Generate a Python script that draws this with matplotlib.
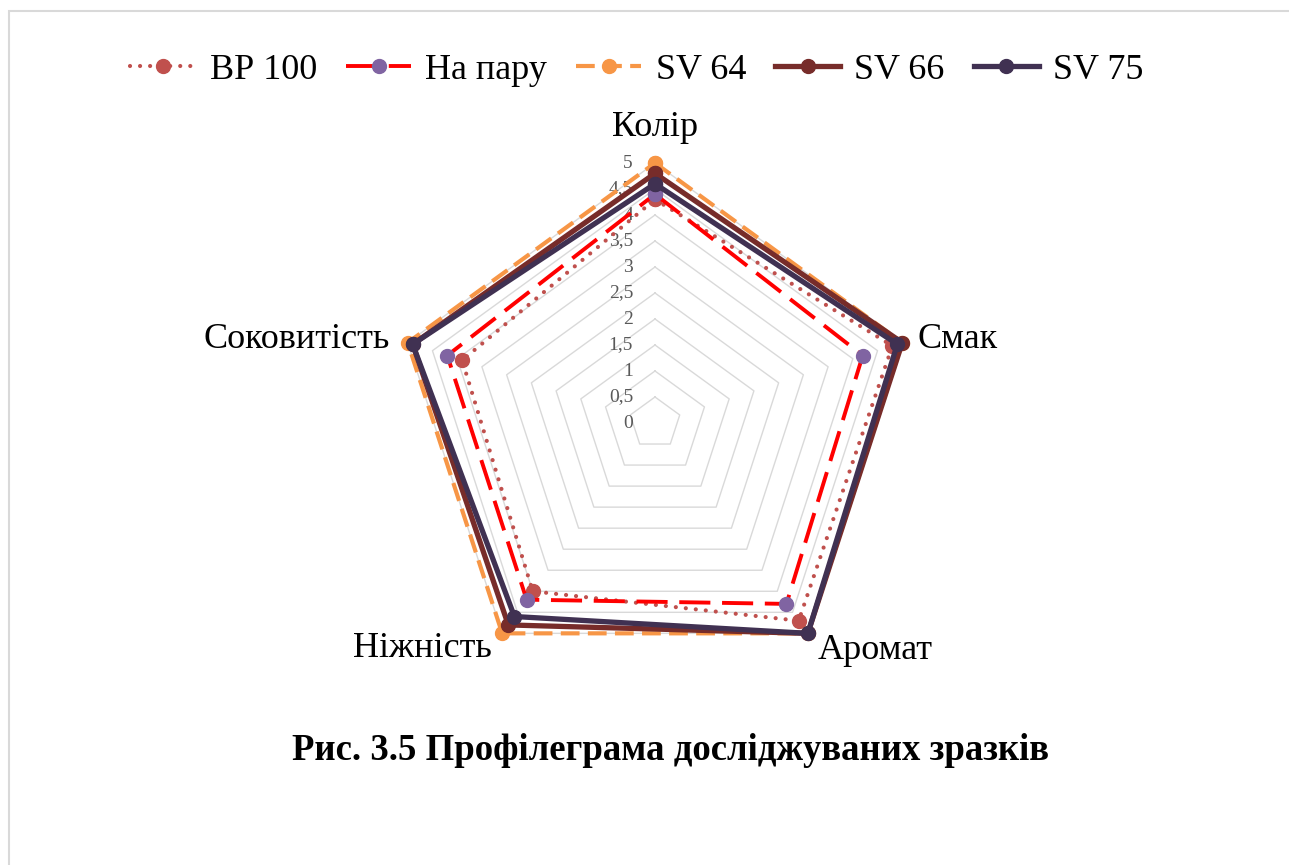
import numpy as np
import matplotlib
matplotlib.use("Agg")
import matplotlib.pyplot as plt
from matplotlib.patches import Rectangle

plt.rcParams["font.family"] = ["Liberation Serif", "DejaVu Serif"]

# sensory scores, 0..5 scale
categories = ["Колір", "Смак", "Аромат", "Ніжність", "Соковитість"]
series_names = ["ВР 100", "На пару", "SV 64", "SV 66", "SV 75"]
bp100 = [4.3, 4.8, 4.7, 4.0, 3.9]
steamed = [4.4, 4.2, 4.3, 4.2, 4.2]
sv64 = [5.0, 5.0, 5.0, 5.0, 5.0]
sv66 = [4.8, 5.0, 5.0, 4.8, 4.9]
sv75 = [4.6, 4.9, 5.0, 4.6, 4.9]
ring_levels = [0.5, 1, 1.5, 2, 2.5, 3, 3.5, 4, 4.5, 5]
tick_values = [0, 0.5, 1, 1.5, 2, 2.5, 3, 3.5, 4, 4.5, 5]
tick_labels = ["0", "0,5", "1", "1,5", "2", "2,5", "3", "3,5", "4", "4,5", "5"]

W, H = 1289, 865
fig = plt.figure(figsize=(W / 100, H / 100), dpi=100)
fig.patch.set_facecolor("white")

# thin frame round the chart area
fig.add_artist(Rectangle((9 / W, -0.05), 1.2, 1 - 11 / H + 0.05,
                         transform=fig.transFigure, fill=False,
                         edgecolor="#D9D9D9", lw=1.5))

cx, cy, R = 655, 423, 260
ax = fig.add_axes([(cx - R) / W, (H - cy - R) / H, 2 * R / W, 2 * R / H],
                  projection="polar")
ax.set_theta_offset(np.pi / 2)
ax.set_theta_direction(-1)
ax.set_ylim(0, 5)
ax.set_xticks([])
ax.set_yticks([])
ax.grid(False)
ax.spines["polar"].set_visible(False)
ax.patch.set_alpha(0)

n = len(categories)
theta = np.linspace(0, 2 * np.pi, n, endpoint=False)
theta_c = np.append(theta, theta[0])

for lvl in ring_levels:
    ax.plot(theta_c, [lvl] * (n + 1), color="#D9D9D9", lw=1.0, zorder=1)

for v, lab in zip(tick_values, tick_labels):
    ax.annotate(lab, (0, v), xytext=(-22, 0), textcoords="offset pixels",
                ha="right", va="center", fontsize=14, color="#595959",
                zorder=2)

styles = [
    dict(color="#C0504D", lw=3.0, ls=(0, (0.01, 2.4)), dash_capstyle="round",
         marker="o", ms=10, mfc="#C0504D", mec="#C0504D"),
    dict(color="#FF0000", lw=2.8, ls=(0, (8, 3)),
         marker="o", ms=10, mfc="#8064A2", mec="#8064A2"),
    dict(color="#F79646", lw=3.0, ls=(0, (4.5, 2)),
         marker="o", ms=10, mfc="#F79646", mec="#F79646"),
    dict(color="#772C2A", lw=3.8, ls="-",
         marker="o", ms=10, mfc="#772C2A", mec="#772C2A"),
    dict(color="#403152", lw=3.8, ls="-",
         marker="o", ms=10, mfc="#403152", mec="#403152"),
]
data = [bp100, steamed, sv64, sv66, sv75]
for i, (name, vals, st) in enumerate(zip(series_names, data, styles)):
    v = np.append(vals, vals[0])
    ax.plot(theta_c, v, label=name, zorder=3 + i, clip_on=False, **st)

# category names outside each vertex
label_pos = [((0, 35), "center", "center"),
             ((15, 3), "left", "center"),
             ((10, -17), "left", "center"),
             ((-10, -15), "right", "center"),
             ((-18, 3), "right", "center")]
for t, name, (off, ha, va) in zip(theta, categories, label_pos):
    ax.annotate(name, (t, 5), xytext=off, textcoords="offset pixels",
                ha=ha, va=va, fontsize=26, color="black", annotation_clip=False)

fig.legend(*ax.get_legend_handles_labels(), loc="center",
           bbox_to_anchor=(637 / W, 1 - 70 / H), ncol=5, frameon=False,
           fontsize=26, handlelength=1.8, handletextpad=0.4,
           columnspacing=0.8, numpoints=1)

fig.text(671 / W, 1 - 750 / H, "Рис. 3.5 Профілеграма досліджуваних зразків",
         ha="center", va="center", fontsize=26.5, fontweight="bold")

fig.savefig("out.png", dpi=100, facecolor="white")
